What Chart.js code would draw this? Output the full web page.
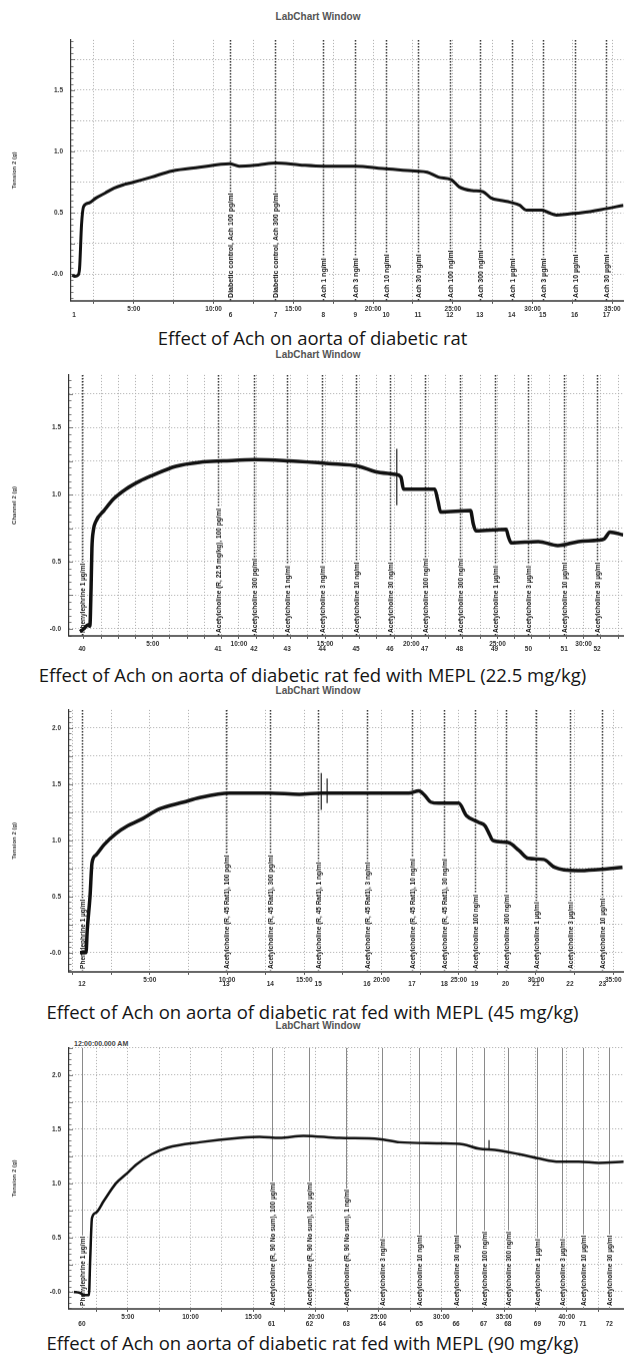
<!DOCTYPE html>
<html>
<head>
<meta charset="utf-8">
<script src="https://cdn.jsdelivr.net/npm/chart.js@4.4.1/dist/chart.umd.min.js"></script>
<style>
  body { margin: 0; background: #fff; width: 625px; height: 1355px; position: relative; overflow: hidden; }
  .panel { position: absolute; left: 0; width: 625px; }
  .win { position: absolute; left: 0; width: 636px; text-align: center; font: bold 10px "Liberation Sans", sans-serif; line-height: 12px; color: #555; }
  .cap { position: absolute; left: 0; width: 625px; text-align: center; font: 18.5px "Open Sans", sans-serif; line-height: 22px; color: #151515; }
  .stamp { position: absolute; font: bold 7px "Liberation Sans", sans-serif; color: #444; line-height: 8px; }
</style>
</head>
<body>
<div class="win" style="top:11px">LabChart Window</div>
<div class="cap" style="top:327px">Effect of Ach on aorta of diabetic rat</div>
<div class="win" style="top:349px">LabChart Window</div>
<div class="cap" style="top:664px">Effect of Ach on aorta of diabetic rat fed with MEPL (22.5 mg/kg)</div>
<div class="win" style="top:685px">LabChart Window</div>
<div class="cap" style="top:1001px">Effect of Ach on aorta of diabetic rat fed with MEPL (45 mg/kg)</div>
<div class="win" style="top:1020px">LabChart Window</div>
<div class="stamp" style="top:1040px;left:74px">12:00:00.000 AM</div>
<div class="cap" style="top:1332px">Effect of Ach on aorta of diabetic rat fed with MEPL (90 mg/kg)</div>

<script>
// Panel 1: diabetic control (time in min, tension in g)
const p1Time = [1.13, 1.3, 1.5, 1.6, 1.72, 1.85, 2.2, 2.63, 3.2, 3.75, 4.4, 5.0, 6.1, 7.4, 9.1, 11.0, 11.6, 12.8, 13.9, 15.4, 16.9, 18.9, 20.6, 22.6, 23.4, 24.1, 24.9, 25.4, 26.2, 26.9, 27.4, 28.0, 28.6, 29.2, 29.6, 30.6, 31.0, 31.5, 32.3, 33.1, 34.3, 35.7];
const p1Tension = [-0.01, -0.02, -0.01, 0.05, 0.4, 0.55, 0.58, 0.62, 0.66, 0.70, 0.73, 0.75, 0.79, 0.84, 0.87, 0.90, 0.88, 0.89, 0.905, 0.89, 0.88, 0.88, 0.86, 0.84, 0.83, 0.79, 0.77, 0.71, 0.68, 0.67, 0.62, 0.60, 0.585, 0.56, 0.52, 0.52, 0.50, 0.48, 0.49, 0.50, 0.525, 0.56];
const p1CommentTime = [1.25, 11.06, 13.88, 16.88, 18.88, 20.81, 22.81, 24.81, 26.69, 28.69, 30.63, 32.63, 34.63];
const p1CommentNo = [1, 6, 7, 8, 9, 10, 11, 12, 13, 14, 15, 16, 17];
const p1CommentText = ["", "Diabetic control, Ach 100 pg/ml", "Diabetic control, Ach 300 pg/ml", "Ach 1 ng/ml", "Ach 3 ng/ml", "Ach 10 ng/ml", "Ach 30 ng/ml", "Ach 100 ng/ml", "Ach 300 ng/ml", "Ach 1 µg/ml", "Ach 3 µg/ml", "Ach 10 µg/ml", "Ach 30 µg/ml"];

// Panel 2: MEPL 22.5 mg/kg
const p2Time = [0.78, 1.0, 1.24, 1.35, 1.42, 1.47, 1.55, 1.7, 2.17, 2.75, 3.44, 4.25, 4.94, 6.33, 7.72, 9.1, 10.95, 12.9, 15.2, 16.96, 17.9, 19.05, 19.4, 19.55, 21.36, 21.55, 21.7, 23.44, 23.6, 23.75, 25.5, 25.65, 25.8, 27.37, 28.5, 29.7, 30.84, 31.2, 31.53, 32.3];
const p2Tension = [-0.02, 0.0, 0.03, 0.02, 0.3, 0.6, 0.73, 0.80, 0.88, 0.97, 1.04, 1.10, 1.14, 1.21, 1.24, 1.25, 1.26, 1.25, 1.23, 1.21, 1.17, 1.15, 1.13, 1.04, 1.04, 0.95, 0.87, 0.88, 0.78, 0.73, 0.74, 0.68, 0.64, 0.65, 0.62, 0.65, 0.66, 0.67, 0.72, 0.70];
const p2MarkTime = [19.16, 19.16];
const p2MarkTension = [1.34, 0.92];
const p2CommentTime = [0.9, 8.79, 10.87, 12.8, 14.83, 16.8, 18.76, 20.78, 22.8, 24.83, 26.8, 28.87, 30.78];
const p2CommentNo = [40, 41, 42, 43, 44, 45, 46, 47, 48, 49, 50, 51, 52];
const p2CommentText = ["Phenylephrine 1 µg/ml", "Acetylcholine (R, 22.5 mg/kg), 100 pg/ml", "Acetylcholine 300 pg/ml", "Acetylcholine 1 ng/ml", "Acetylcholine 3 ng/ml", "Acetylcholine 10 ng/ml", "Acetylcholine 30 ng/ml", "Acetylcholine 100 ng/ml", "Acetylcholine 300 ng/ml", "Acetylcholine 1 µg/ml", "Acetylcholine 3 µg/ml", "Acetylcholine 10 µg/ml", "Acetylcholine 30 µg/ml"];

// Panel 3: MEPL 45 mg/kg
const p3Time = [0.48, 0.87, 0.95, 1.13, 1.26, 1.52, 2.03, 2.81, 3.58, 4.35, 5.65, 7.19, 8.23, 10.16, 12.74, 14.68, 16.1, 17.9, 19.84, 21.77, 22.42, 22.8, 23.19, 23.71, 25.0, 25.5, 26.3, 26.7, 27.0, 27.2, 28.2, 28.9, 29.5, 30.5, 31.2, 32.7, 34.0, 35.6];
const p3Tension = [0.0, 0.0, 0.2, 0.5, 0.8, 0.87, 0.96, 1.06, 1.13, 1.18, 1.28, 1.34, 1.38, 1.42, 1.42, 1.41, 1.42, 1.42, 1.42, 1.42, 1.44, 1.40, 1.34, 1.33, 1.33, 1.22, 1.16, 1.13, 1.05, 1.0, 0.98, 0.91, 0.84, 0.83, 0.76, 0.73, 0.74, 0.76];
const p3MarkTime = [16.1, 16.1, 16.3, 16.48, 16.48];
const p3MarkTension = [1.6, 1.27, null, 1.55, 1.33];
const p3CommentTime = [0.61, 9.94, 12.8, 15.9, 19.06, 21.97, 24.07, 26.03, 28.03, 30.0, 32.2, 34.3];
const p3CommentNo = [12, 13, 14, 15, 16, 17, 18, 19, 20, 21, 22, 23];
const p3CommentText = ["Phenylephrine 1 µg/ml", "Acetylcholine (R, 45 Rat1), 100 pg/ml", "Acetylcholine (R, 45 Rat1), 300 pg/ml", "Acetylcholine (R, 45 Rat1), 1 ng/ml", "Acetylcholine (R, 45 Rat1), 3 ng/ml", "Acetylcholine (R, 45 Rat1), 10 ng/ml", "Acetylcholine (R, 45 Rat1), 30 ng/ml", "Acetylcholine 100 ng/ml", "Acetylcholine 300 ng/ml", "Acetylcholine 1 µg/ml", "Acetylcholine 3 µg/ml", "Acetylcholine 10 µg/ml"];

// Panel 4: MEPL 90 mg/kg
const p4Time = [0.70, 1.18, 1.5, 1.9, 2.0, 2.14, 2.45, 3.09, 4.05, 5.0, 5.64, 6.91, 8.18, 10.73, 13.91, 15.5, 17.09, 19.0, 21.87, 25.05, 26.64, 29.82, 31.73, 33.0, 34.27, 36.19, 37.78, 39.37, 40.96, 42.55, 44.54];
const p4Tension = [0.0, -0.01, -0.03, -0.03, 0.3, 0.68, 0.73, 0.84, 1.0, 1.1, 1.17, 1.27, 1.33, 1.38, 1.42, 1.43, 1.42, 1.44, 1.42, 1.41, 1.38, 1.37, 1.36, 1.32, 1.31, 1.27, 1.23, 1.2, 1.2, 1.19, 1.2];
const p4MarkTime = [33.8, 33.8];
const p4MarkTension = [1.40, 1.31];
const p4CommentTime = [1.34, 16.46, 19.48, 22.42, 25.29, 28.23, 31.17, 33.36, 35.3, 37.66, 39.6, 41.28, 43.39];
const p4CommentNo = [60, 61, 62, 63, 64, 65, 66, 67, 68, 69, 70, 71, 72];
const p4CommentText = ["Phenylephrine 1 µg/ml", "Acetylcholine (R, 90 No sum), 100 µg/ml", "Acetylcholine (R, 90 No sum), 300 µg/ml", "Acetylcholine (R, 90 No sum), 1 ng/ml", "Acetylcholine 3 ng/ml", "Acetylcholine 10 ng/ml", "Acetylcholine 30 ng/ml", "Acetylcholine 100 ng/ml", "Acetylcholine 300 ng/ml", "Acetylcholine 1 µg/ml", "Acetylcholine 3 µg/ml", "Acetylcholine 10 µg/ml", "Acetylcholine 30 µg/ml"];

const panels = [
  { time: p1Time, tension: p1Tension, markTime: [], markTension: [], cTime: p1CommentTime, cNo: p1CommentNo, cText: p1CommentText,
    top: 40, bottom: 300, left: 71, xMin: 1.06, xMax: 35.7, yMin: -0.22, yMax: 1.91, step: 2.5, yTitle: "Tension 2 (g)", lw: 3, cFont: 7, cColor: "#333", solid: false, noGap: 14 },
  { time: p2Time, tension: p2Tension, markTime: p2MarkTime, markTension: p2MarkTension, cTime: p2CommentTime, cNo: p2CommentNo, cText: p2CommentText,
    top: 375, bottom: 635, left: 69, xMin: 0.14, xMax: 32.3, yMin: -0.052, yMax: 1.89, step: 1, yTitle: "Channel 2 (g)", lw: 3.5, cFont: 6.5, cColor: "#333", solid: false, noGap: 13 },
  { time: p3Time, tension: p3Tension, markTime: p3MarkTime, markTension: p3MarkTension, cTime: p3CommentTime, cNo: p3CommentNo, cText: p3CommentText,
    top: 710, bottom: 971, left: 69, xMin: -0.23, xMax: 35.65, yMin: -0.17, yMax: 2.16, step: 2.5, yTitle: "Tension 2 (g)", lw: 3.5, cFont: 6.5, cColor: "#333", solid: false, noGap: 12 },
  { time: p4Time, tension: p4Tension, markTime: p4MarkTime, markTension: p4MarkTension, cTime: p4CommentTime, cNo: p4CommentNo, cText: p4CommentText,
    top: 1048, bottom: 1308, left: 69, xMin: 0.31, xMax: 44.54, yMin: -0.157, yMax: 2.25, step: 2.5, yTitle: "Tension 2 (g)", lw: 2.5, cFont: 6.5, cColor: "#8a8a8a", solid: true, noGap: 15 },
];

Chart.defaults.font.family = '"Liberation Sans", sans-serif';

function points(xs, ys) {
  return xs.map((t, i) => ({ x: t, y: ys[i] }));
}

// Comment lines, rotated comment texts, axis minor ticks and comment numbers
function labchartMarks(p) {
  return {
    id: "labchartMarks",
    beforeDatasetsDraw(chart) {
      const { ctx, chartArea: a, scales: { x, y } } = chart;
      ctx.save();
      ctx.strokeStyle = "#444";
      ctx.lineWidth = 0.7;
      for (let k = Math.ceil(y.min * 20); k <= Math.floor(y.max * 20); k++) {
        const py = Math.round(y.getPixelForValue(k / 20)) + 0.5;
        const len = k % 5 === 0 ? 4 : 2.5;
        ctx.beginPath();
        ctx.moveTo(a.left, py);
        ctx.lineTo(a.left + len, py);
        ctx.stroke();
      }
      p.cTime.forEach((t, i) => {
        const px = Math.round(x.getPixelForValue(t)) + 0.5;
        const text = p.cText[i];
        if (text) {
          ctx.setLineDash(p.solid ? [] : [1.5, 1.5]);
          ctx.strokeStyle = p.cColor;
          ctx.lineWidth = p.solid ? 1 : 1.5;
          ctx.beginPath();
          ctx.moveTo(px, a.top);
          ctx.lineTo(px, a.bottom);
          ctx.stroke();
          ctx.setLineDash([]);
          ctx.save();
          ctx.translate(px, a.bottom - 3);
          ctx.rotate(-Math.PI / 2);
          ctx.font = `bold ${p.cFont}px "Liberation Sans"`;
          const w = ctx.measureText(text).width;
          ctx.fillStyle = "#fff";
          ctx.fillRect(-1, -p.cFont * 0.6, w + 2, p.cFont * 1.2);
          ctx.fillStyle = "#111";
          ctx.textBaseline = "middle";
          ctx.fillText(text, 0, 0.5);
          ctx.restore();
        }
      });
      ctx.restore();
    },
    afterDraw(chart) {
      const { ctx, chartArea: a, scales: { x } } = chart;
      ctx.save();
      ctx.font = 'bold 6.5px "Liberation Sans"';
      ctx.fillStyle = "#333";
      ctx.textAlign = "center";
      ctx.textBaseline = "middle";
      p.cTime.forEach((t, i) => ctx.fillText(String(p.cNo[i]), x.getPixelForValue(t), a.bottom + p.noGap));
      ctx.restore();
    },
  };
}

function makePanel(p) {
  const padTop = 6, xAxisH = 26;
  const wrap = document.createElement("div");
  wrap.className = "panel";
  let h = p.bottom - p.top + padTop + xAxisH;
  wrap.style.top = p.top - padTop + "px";
  wrap.style.height = h + "px";
  const canvas = document.createElement("canvas");
  wrap.appendChild(canvas);
  document.body.appendChild(wrap);

  const tickFont = { size: 6.5, weight: "bold" };
  const chart = new Chart(canvas, {
    type: "line",
    data: {
      datasets: [
        { data: points(p.time, p.tension), borderColor: "#111", borderWidth: p.lw, pointRadius: 0, tension: 0.4, cubicInterpolationMode: "monotone", fill: false },
        { data: points(p.markTime, p.markTension), borderColor: "#222", borderWidth: 1.2, pointRadius: 0, spanGaps: false, fill: false },
      ],
    },
    options: {
      animation: false,
      responsive: true,
      maintainAspectRatio: false,
      layout: { padding: { top: padTop, left: 0, right: 0, bottom: 0 } },
      plugins: { legend: { display: false }, tooltip: { enabled: false } },
      scales: {
        x: {
          type: "linear",
          min: p.xMin,
          max: p.xMax,
          afterFit: (s) => { s.height = xAxisH; },
          ticks: {
            stepSize: p.step, includeBounds: false, autoSkip: false, maxRotation: 0, padding: 1, color: "#333", font: tickFont,
            callback: (v) => (v > 0 && Math.abs(v % 5) < 1e-6 ? v + ":00" : ""),
          },
          grid: { color: "#a8a8a8", lineWidth: 1, tickLength: 3, tickColor: "#555" },
          border: { color: "#666", width: 2, dash: [1, 2] },
        },
        y: {
          min: p.yMin,
          max: p.yMax,
          afterFit: (s) => { s.width = p.left; },
          ticks: {
            stepSize: 0.25, includeBounds: false, padding: 8, color: "#333", font: tickFont,
            callback: (v) => (Math.abs(v % 0.5) < 1e-6 ? (v === 0 ? "-0.0" : v.toFixed(1)) : ""),
          },
          grid: { color: "#a8a8a8", lineWidth: 1, drawTicks: false },
          border: { color: "#333", width: 1.2, dash: [1, 2] },
          title: { display: true, text: p.yTitle, color: "#333", font: { size: 6, weight: "bold" }, padding: { top: 11, bottom: 0 } },
        },
      },
    },
    plugins: [labchartMarks(p)],
  });

  // keep the plot area where the reference has it
  const a = chart.chartArea;
  const extraBottom = h - a.bottom;
  h = p.bottom - p.top + a.top + extraBottom;
  wrap.style.top = p.top - a.top + "px";
  wrap.style.height = h + "px";
  chart.resize();
}

panels.forEach(makePanel);
</script>
</body>
</html>
